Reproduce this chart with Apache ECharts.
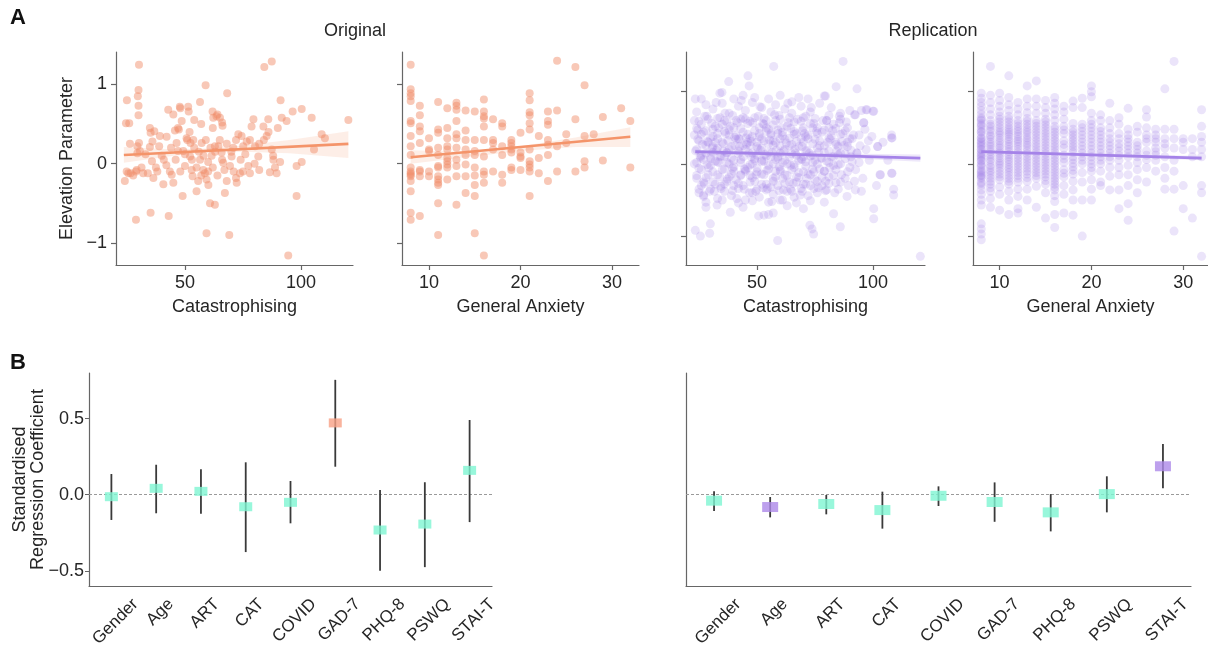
<!DOCTYPE html>
<html><head><meta charset="utf-8">
<script src="https://cdn.jsdelivr.net/npm/echarts@6/dist/echarts.min.js"></script>
<style>html,body{margin:0;padding:0;background:#fff}#c{width:1208px;height:650px}</style>
</head><body><div id="c"></div>
<script>
// ---------- Panel A data ----------
const origCatPoints = [[24.1,-0.22],[24.9,-0.10],[25.6,-0.12],[24.6,0.51],[26.0,0.51],[25.0,0.80],[26.3,0.25],[26.6,-0.12],[27.7,-0.15],[28.9,-0.10],[29.2,-0.08],[29.5,0.13],[29.5,0.22],[30.0,0.93],[29.7,0.85],[30.2,1.25],[30.0,0.73],[30.0,0.61],[30.2,0.26],[30.6,0.16],[31.3,-0.05],[32.0,-0.12],[28.9,-0.71],[34.9,0.45],[35.2,0.39],[34.9,0.21],[35.8,0.03],[36.4,-0.18],[35.2,-0.62],[36.8,0.41],[37.5,-0.05],[38.1,-0.10],[38.9,0.22],[39.2,0.35],[40.7,-0.26],[40.9,0.05],[42.8,0.68],[43.0,-0.66],[42.1,0.34],[43.5,-0.10],[44.3,-0.14],[45.0,-0.24],[45.7,0.42],[46.4,0.26],[47.0,0.16],[47.4,0.43],[47.8,0.72],[48.6,0.54],[49.0,-0.41],[49.3,0.16],[50.0,-0.03],[50.7,0.32],[51.4,0.72],[51.6,0.66],[52.2,0.09],[52.4,0.26],[52.9,-0.08],[53.3,-0.16],[53.6,0.30],[55.0,-0.35],[55.7,-0.22],[56.5,0.78],[56.5,0.05],[57.2,0.26],[57.9,-0.08],[58.6,-0.12],[58.9,0.99],[59.3,-0.88],[59.3,-0.20],[60.1,-0.27],[60.8,-0.50],[62.9,-0.52],[61.5,0.10],[61.9,0.66],[62.2,0.58],[62.9,0.22],[63.6,0.60],[64.4,0.22],[65.1,0.58],[66.2,0.48],[65.8,0.14],[66.5,0.01],[67.2,-0.37],[68.0,-0.22],[68.2,0.89],[69.1,-0.90],[69.4,-0.03],[70.1,0.09],[70.8,0.20],[72.3,-0.24],[73.0,0.37],[73.7,-0.12],[74.4,0.35],[75.1,0.22],[76.6,0.28],[77.3,-0.03],[78.0,-0.12],[78.7,0.47],[79.5,0.56],[80.2,0.22],[81.6,0.09],[83.8,0.47],[84.2,1.22],[87.4,1.29],[85.2,0.35],[85.9,0.56],[86.6,-0.11],[87.4,0.18],[88.1,0.05],[88.8,-0.05],[89.5,-0.12],[91.2,0.80],[91.7,0.58],[93.8,0.54],[96.4,0.66],[98.1,-0.03],[98.1,-0.41],[100.3,0.69],[100.3,0.02],[94.5,-1.16],[104.6,0.58],[105.6,0.18],[108.9,0.37],[110.3,0.32],[120.4,0.55],
[40,0.10],[42,-0.02],[44,0.20],[46,0.05],[48,-0.10],[50,0.12],[51,0.30],[53,0.05],[54,0.20],[55,-0.05],[56,0.15],[57,-0.15],[58,0.10],[59,0.30],[60,0.02],[60,-0.10],[61,0.20],[62,-0.05],[63,0.15],[64,-0.15],[65,0.30],[66,0.05],[67,-0.08],[68,0.25],[70,0.15],[71,-0.10],[72,0.30],[74,0.05],[75,-0.10],[76,0.12],[78,0.30],[80,0.00],[82,0.25],[84,0.30],[86,0.40],[88,0.10],[47,0.45],[52,0.40],[57,0.50],[62,0.45],[33,0.12],[36,0.28],[45,0.62],[48,0.70],[54,0.55],[64,0.62],[66,0.52],[72,-0.18],[82,-0.08],[90,0.45],[91,0.02],[34,-0.12]];

const origAnxLevels = [8,9,10,11,12,13,14,15,16,17,18,19,20,21,22,23,24,25,26,27,28,29,31,32];
const origAnxValues = [
 [1.25,0.94,0.89,0.85,0.79,0.54,0.51,0.35,0.22,0.11,-0.05,-0.10,-0.12,-0.14,-0.16,-0.22,-0.35,-0.62,-0.71],
 [0.73,0.61,0.47,0.41,0.26,-0.08,-0.10,-0.16,-0.66],
 [0.32,0.18,0.16,-0.10,-0.16],
 [0.78,0.43,0.39,0.20,0.11,-0.03,-0.05,-0.16,-0.20,-0.24,-0.27,-0.50,-0.90],
 [0.70,0.45,0.32,0.22,0.18,0.07,0.03,-0.01,-0.05,-0.20],
 [0.77,0.73,0.68,0.54,0.37,0.32,0.20,0.05,-0.03,-0.16,-0.52],
 [0.67,0.42,0.30,0.18,0.11,-0.01,-0.16,-0.37],
 [0.66,0.30,0.16,0.11,-0.05,-0.15,-0.27,-0.41,-0.88],
 [0.81,0.66,0.60,0.57,0.47,0.30,0.09,-0.10,-0.14,-0.24,-1.16],
 [0.56,0.30,0.26,0.18,-0.10],
 [0.51,0.47,0.22,0.11,-0.14,-0.24],
 [0.30,0.26,0.22,0.18,0.14,-0.05,-0.08],
 [0.39,0.14,0.09,0.07,-0.08],
 [0.89,0.80,0.65,0.61,0.51,0.43,0.18,0.03,-0.01,-0.05,-0.10,-0.41],
 [0.35,0.07,-0.12],
 [0.66,0.54,0.49,0.30,0.24,0.11,-0.22],
 [1.30,0.67,0.22,-0.10],
 [0.37,0.26],
 [1.22,0.56,-0.10],
 [0.99,0.35,0.03,-0.05],
 [0.37],
 [0.59,0.04],
 [0.70],
 [0.54,-0.05]
];

const repCatPoints = [[57.2,1.35],[87.1,1.42],[46.1,1.22],[37.8,1.14],[46.6,1.08],[34.9,0.99],[84.1,1.07],[93.1,1.04],[79.5,0.94],[23.4,0.90],
[26,0.90],[34,0.98],[40,0.90],[44,0.95],[49,0.92],[55,0.90],[60,0.95],[68,0.92],[72,0.90],[79,0.94],
[24,0.72],[28,0.82],[31,0.76],[35,0.84],[38,0.70],[42,0.80],[45,0.74],[48,0.85],[52,0.78],[56,0.72],[58,0.82],[62,0.76],[65,0.86],[69,0.80],[73,0.72],[77,0.84],[82,0.78],[86,0.70],[90,0.74],[95,0.74],[97,0.75],[100,0.73],
[23,0.60],[26,0.55],[29,0.62],[32,0.52],[34,0.64],[37,0.58],[40,0.50],[43,0.62],[46,0.56],[49,0.64],[51,0.50],[54,0.60],[57,0.54],[60,0.62],[63,0.52],[66,0.58],[70,0.64],[73,0.56],[76,0.50],[80,0.60],[83,0.55],[86,0.62],[89,0.50],[92,0.68],[96,0.57],
[23,0.40],[25,0.32],[27,0.44],[30,0.36],[33,0.42],[35,0.30],[38,0.40],[41,0.34],[44,0.44],[46,0.30],[48,0.38],[51,0.42],[53,0.32],[56,0.40],[58,0.30],[61,0.44],[64,0.36],[67,0.42],[70,0.30],[72,0.40],[75,0.34],[78,0.44],[81,0.36],[84,0.30],[87,0.42],[90,0.35],[94,0.40],[98,0.32],[102,0.24],[108,0.36],[108,0.40],
[24,0.20],[26,0.12],[28,0.26],[31,0.16],[33,0.22],[36,0.10],[39,0.24],[42,0.14],[45,0.20],[47,0.26],[50,0.12],[52,0.22],[55,0.16],[57,0.26],[59,0.10],[62,0.20],[65,0.14],[68,0.24],[71,0.18],[74,0.12],[76,0.22],[79,0.16],[82,0.10],[85,0.24],[88,0.14],[93,0.15],[97,0.20],
[23,0.00],[25,-0.06],[27,0.06],[30,-0.02],[32,0.04],[35,-0.08],[37,0.02],[40,-0.04],[43,0.06],[45,-0.10],[48,0.00],[50,-0.06],[53,0.04],[55,-0.02],[58,0.06],[60,-0.08],[63,0.00],[66,-0.05],[68,0.05],[71,-0.03],[74,0.02],[77,-0.07],[80,0.04],[83,-0.02],[86,0.00],[90,-0.05],[94,0.02],[103,-0.15],[108,-0.13],
[24,-0.20],[26,-0.30],[29,-0.15],[31,-0.25],[34,-0.18],[36,-0.28],[39,-0.14],[41,-0.22],[44,-0.30],[47,-0.16],[49,-0.24],[52,-0.14],[54,-0.28],[57,-0.20],[59,-0.30],[62,-0.15],[64,-0.25],[67,-0.18],[70,-0.28],[72,-0.14],[75,-0.22],[78,-0.30],[81,-0.18],[84,-0.26],[88,-0.20],[92,-0.24],
[25,-0.40],[27,-0.45],[30,-0.35],[33,-0.48],[36,-0.38],[39,-0.44],[42,-0.34],[45,-0.50],[48,-0.40],[51,-0.46],[54,-0.36],[57,-0.42],[60,-0.50],[63,-0.38],[66,-0.46],[69,-0.34],[72,-0.44],[76,-0.40],[80,-0.36],[88.8,-0.45],[92.4,-0.36],[95,-0.38],[108.9,-0.43],[108.9,-0.35],
[28,-0.60],[32.8,-0.57],[38.5,-0.67],[44,-0.60],[50.7,-0.72],[53,-0.71],[55,-0.70],[57,-0.68],[63,-0.58],[70,-0.62],[83,-0.69],[100.3,-0.62],[100.3,-0.76],
[23.4,-0.92],[25.6,-1.00],[29.6,-0.96],[29.9,-0.83],[58.9,-1.06],[74.4,-0.97],[73.7,-0.90],[72.8,-0.85],[85.9,-0.87],[120.4,-1.28],[108.2,-0.13],[108.2,0.36],[103.2,-0.15],[102,0.24],[100.3,0.73],[97.4,0.75],[96,0.57],[92.4,0.68],[93.1,0.15],[27,-0.43],
[32,0.30],[34,0.10],[36,0.45],[38,0.20],[40,0.05],[42,0.35],[44,0.25],[46,-0.05],[48,0.15],[50,0.30],[52,0.05],[54,0.45],[56,0.10],[58,-0.10],[60,0.35],[62,0.05],[64,0.25],[66,0.45],[68,-0.12],[70,0.10],[35,0.55],[45,0.62],[55,0.48],[65,0.70],[30,0.10],[40,-0.30],[50,-0.35],[60,0.15],[70,0.50],[75,0.05],
[29,0.30],[31,0.48],[37,0.15],[41,0.60],[43,-0.15],[47,0.35],[49,0.05],[53,0.55],[56,-0.32],[59,0.42],[61,-0.20],[65,-0.38],[67,0.12],[69,0.35],[73,-0.30],[77,0.25],[79,-0.10],[81,0.50],[85,0.12],[89,0.30],
[24.5,0.47],[25.8,0.08],[27.3,-0.27],[28.4,0.66],[29.1,-0.05],[30.7,0.22],[31.6,-0.38],[32.4,0.85],[33.5,0.02],[34.4,-0.31],[35.6,0.18],[36.2,0.70],[37.3,-0.21],[38.4,0.52],[39.5,-0.06],[40.4,0.37],[41.3,-0.48],[42.5,0.24],[43.2,0.88],[44.6,-0.07],[45.3,0.36],[46.7,-0.40],[47.5,0.10],[48.2,0.57],[49.6,-0.15],[50.4,0.21],[51.3,0.79],[52.6,-0.33],[53.4,0.13],[54.3,-0.09],[55.5,0.33],[56.4,-0.52],[57.6,0.68],[58.3,0.19],[59.6,-0.04],[60.5,0.50],[61.4,-0.36],[62.6,0.29],[63.3,0.84],[64.5,-0.02],[65.6,-0.27],[66.4,0.20],[67.5,0.62],[68.6,-0.43],[69.3,0.06],[70.5,0.42],[71.4,-0.20],[72.6,0.15],[73.4,0.78],[74.5,-0.11],[75.6,0.45],[76.4,-0.33],[77.5,0.08],[78.4,0.60],[79.6,-0.24],[80.5,0.30],[81.4,-0.05],[82.6,0.46],[83.5,-0.40],[84.4,0.18],[85.5,0.66],[86.4,-0.15],[87.6,0.26],[88.5,0.58],[89.4,-0.30],[90.5,0.10],[91.6,0.40],[92.5,-0.08],[94.4,0.25],[95.6,-0.20],[96.5,0.48],[98.4,0.05],[99.5,0.38],[101.5,-0.30],[104.3,0.30],[106.4,0.05],
[27.5,0.66],[33,0.63],[39.5,0.67],[44,0.64],[50.5,0.66],[53,0.63],[59.5,0.67],[64,0.64],[71,0.66],[75,0.63],[81,0.67],
[25,0.59],[30.5,0.56],[36,0.60],[41.5,0.57],[47,0.59],[52.5,0.56],[58,0.60],[63.5,0.57],[69,0.59],[74.5,0.56],[80,0.60],[85.5,0.57],
[24,0.49],[28,0.46],[33.5,0.50],[38,0.47],[43,0.49],[49,0.46],[54,0.50],[59,0.47],[64.5,0.49],[69.5,0.46],[74,0.50],[79,0.47],[84,0.49],[88,0.46],
[26,0.41],[31,0.38],[36.5,0.42],[41,0.39],[46,0.41],[51,0.38],[56,0.42],[61,0.39],[66,0.41],[71,0.38],[76,0.42],[82,0.39],[86,0.41],
[24.5,0.34],[28.5,0.31],[33,0.35],[37.5,0.32],[42.5,0.34],[47.5,0.31],[52,0.35],[57,0.32],[62,0.34],[67,0.31],[72,0.35],[77,0.32],[81.5,0.34],[86.5,0.31],[91,0.35],
[26.5,0.27],[31,0.24],[35.5,0.28],[40.5,0.25],[45.5,0.27],[50,0.24],[55,0.28],[60,0.25],[65,0.27],[69.5,0.24],[74,0.28],[79,0.25],[84,0.27],[89,0.24],
[23.5,0.18],[28,0.15],[32.5,0.19],[37,0.16],[42,0.18],[46.5,0.15],[51.5,0.19],[56.5,0.16],[61.5,0.18],[66.5,0.15],[71.5,0.19],[76.5,0.16],[81,0.18],[86,0.15],[90.5,0.19],
[25.5,0.10],[30,0.07],[34.5,0.11],[39,0.08],[44,0.10],[49,0.07],[54,0.11],[59,0.08],[64,0.10],[69,0.07],[73,0.11],[78,0.08],[83,0.10],[88,0.07],
[24,0.02],[28.5,-0.01],[33,0.03],[38,0.00],[43,0.02],[47,-0.01],[52,0.03],[57,0.00],[61,0.02],[66,-0.01],[71,0.03],[76,0.00],[81,0.02],[85,-0.01],[91,0.03],
[26,-0.08],[31,-0.11],[36,-0.07],[40,-0.10],[45,-0.08],[50,-0.11],[55,-0.07],[60,-0.10],[65,-0.08],[70,-0.11],[74,-0.07],[79,-0.10],[84,-0.08],[89,-0.11],
[24,-0.16],[28,-0.19],[33,-0.15],[38,-0.18],[43,-0.16],[48,-0.19],[53,-0.15],[58,-0.18],[63,-0.16],[68,-0.19],[73,-0.15],[78,-0.18],[83,-0.16],
[27,-0.25],[32,-0.28],[37,-0.24],[42,-0.27],[47,-0.25],[52,-0.28],[57,-0.24],[62,-0.27],[67,-0.25],[71,-0.28],[76,-0.24],[81,-0.27],[86,-0.25],
[25,-0.35],[29.5,-0.38],[34.5,-0.34],[39.5,-0.37],[44.5,-0.35],[49.5,-0.38],[54.5,-0.34],[59.5,-0.37],[64.5,-0.35],[69.5,-0.38],[74.5,-0.34],[79.5,-0.37],[85,-0.35],
[28,-0.53],[35,-0.50],[42,-0.54],[48,-0.51],[55,-0.53],[61,-0.50],[67,-0.54],[73,-0.51],[79,-0.53]];

const repAnxLevels = [8,9,10,11,12,13,14,15,16,17,18,19,20,21,22,23,24,25,26,27,28,29,30,31,32];
const repAnxValues = [
 [0.98,0.91,0.85,0.80,0.74,0.69,0.64,0.60,0.56,0.52,0.48,0.44,0.40,0.36,0.32,0.28,0.24,0.20,0.16,0.12,0.08,0.04,0.00,-0.04,-0.08,-0.12,-0.16,-0.20,-0.25,-0.30,-0.36,-0.42,-0.50,-0.57,-0.83,-0.90,-0.97,-1.05,0.30,0.10,-0.10,0.45,0.20,0.35,0.05,-0.15,0.62,0.54,0.26,0.14,-0.02,-0.18,-0.27],
 [1.35,0.95,0.85,0.76,0.68,0.60,0.52,0.45,0.38,0.30,0.24,0.17,0.10,0.03,-0.05,-0.12,-0.20,-0.28,-0.38,-0.48,-0.60,0.40,0.20,-0.02,0.55,0.48,0.34,0.27,0.13,0.06,-0.09,-0.16,-0.24,-0.33],
 [0.98,0.88,0.80,0.72,0.66,0.58,0.50,0.43,0.36,0.29,0.22,0.15,0.08,0.01,-0.06,-0.14,-0.22,-0.32,-0.42,-0.64,0.32,0.12,0.62,0.54,0.46,0.40,0.25,0.18,0.04,-0.02,-0.10,-0.18],
 [1.22,0.92,0.82,0.74,0.66,0.58,0.50,0.44,0.38,0.31,0.24,0.17,0.10,0.03,-0.05,-0.12,-0.20,-0.28,-0.38,-0.50,-0.70,0.27,0.06,0.62,0.54,0.47,0.41,0.34,0.20,0.13,-0.01,-0.08,-0.16,-0.24],
 [0.85,0.76,0.68,0.60,0.52,0.45,0.38,0.31,0.24,0.16,0.08,0.00,-0.08,-0.16,-0.25,-0.35,-0.45,-0.62,-0.68,0.20,0.56,0.48,0.41,0.34,0.28,0.12,0.04,-0.04,-0.12,-0.20],
 [1.08,0.90,0.80,0.71,0.63,0.55,0.47,0.40,0.33,0.26,0.18,0.10,0.02,-0.06,-0.14,-0.24,-0.35,-0.50,0.59,0.51,0.44,0.36,0.29,0.22,0.14,0.06,-0.02,-0.10,-0.19],
 [1.15,0.90,0.80,0.70,0.60,0.52,0.44,0.36,0.28,0.20,0.12,0.04,-0.04,-0.12,-0.20,-0.31,-0.60,0.56,0.48,0.40,0.32,0.24,0.16,0.08,0.00,-0.08,-0.16],
 [0.88,0.78,0.70,0.62,0.54,0.46,0.38,0.30,0.22,0.14,0.06,-0.02,-0.10,-0.18,-0.28,-0.40,-0.75,0.58,0.50,0.42,0.34,0.26,0.18,0.10,0.02,-0.06,-0.14,-0.23],
 [0.92,0.84,0.76,0.68,0.60,0.52,0.44,0.36,0.28,0.20,0.12,0.04,-0.04,-0.12,-0.20,-0.28,-0.36,-0.44,-0.52,-0.70,-0.88,0.48,0.40,0.32,0.24,0.16,0.08,0.00,-0.08,-0.16,-0.24,-0.32],
 [0.80,0.72,0.62,0.52,0.42,0.32,0.22,0.12,0.02,-0.08,-0.18,-0.30,-0.42,-0.68,0.47,0.27,0.07,-0.13],
 [0.87,0.78,0.56,0.48,0.40,0.32,0.24,0.16,0.06,-0.04,-0.14,-0.24,-0.36,-0.50,-0.71,0.44,0.36,0.28,0.20,0.10,0.01,-0.09],
 [0.91,0.78,0.55,0.50,0.40,0.30,0.20,0.10,0.00,-0.12,-0.25,-0.50,-1.00,0.45,0.35,0.25,0.15,0.05],
 [1.08,1.00,0.93,0.70,0.60,0.50,0.40,0.30,0.20,0.10,0.00,-0.10,-0.22,-0.35,-0.50,0.55,0.45,0.35,0.25,0.15,0.05,-0.05],
 [0.68,0.60,0.50,0.40,0.30,0.20,0.10,0.00,-0.10,-0.25,-0.30,0.45,0.35,0.25,0.15,0.05],
 [0.84,0.60,0.50,0.35,0.25,0.15,0.05,-0.05,-0.17,-0.36,0.42,0.30,0.20,0.10],
 [0.64,0.55,0.42,0.28,0.18,0.05,-0.05,-0.15,-0.36,-0.62,0.35,0.23,0.12],
 [0.77,0.48,0.40,0.30,0.20,0.10,-0.02,-0.15,-0.30,-0.55,-0.78,0.35,0.25,0.15],
 [0.52,0.44,0.30,0.20,0.10,0.02,-0.08,-0.22,-0.40,0.25,0.15],
 [0.75,0.65,0.50,0.40,0.30,0.18,0.06,-0.05,-0.25,0.35,0.12],
 [0.48,0.40,0.30,0.22,0.12,0.05,-0.10,0.35,0.17],
 [1.04,0.48,0.35,0.22,0.10,-0.05,-0.20,-0.35,0.28],
 [1.42,0.48,0.35,0.22,0.05,-0.10,-0.35,-0.93],
 [0.35,0.30,0.20,-0.30,-0.62],
 [0.35,0.20,0.10,-0.75],
 [0.75,0.52,0.38,0.30,0.20,0.10,-0.30,-0.40,-1.28]
];

// regression fits and confidence bands
const origCatFit = [[23.7,0.11],[120.4,0.25]];
const origCatBandUpper = [[23.7,0.21],[45,0.18],[60,0.19],[75,0.23],[95,0.30],[120.4,0.41]];
const origCatBandLower = [[23.7,0.01],[45,0.10],[60,0.14],[75,0.15],[95,0.13],[120.4,0.07]];
const origAnxFit = [[8,0.08],[32,0.34]];
const origAnxBandUpper = [[8,0.17],[14,0.15],[20,0.22],[26,0.33],[32,0.46]];
const origAnxBandLower = [[8,0.00],[14,0.08],[20,0.16],[26,0.21],[32,0.21]];
const repCatFit = [[23.4,0.17],[120.4,0.08]];
const repCatBandUpper = [[23.4,0.20],[70,0.15],[120.4,0.13]];
const repCatBandLower = [[23.4,0.13],[70,0.11],[120.4,0.03]];
const repAnxFit = [[8,0.17],[32,0.08]];
const repAnxBandUpper = [[8,0.19],[20,0.14],[32,0.11]];
const repAnxBandLower = [[8,0.15],[20,0.11],[32,0.05]];

const elevTicks = [-1,0,1];
const catTicks = [50,100];
const anxTicks = [10,20,30];

// ---------- Panel B data ----------
const predictors = ['Gender','Age','ART','CAT','COVID','GAD-7','PHQ-8','PSWQ','STAI-T'];
const origCoef = [-0.013,0.042,0.022,-0.079,-0.050,0.472,-0.232,-0.193,0.160];
const origLow  = [-0.166,-0.122,-0.125,-0.377,-0.188,0.184,-0.500,-0.476,-0.180];
const origHigh = [0.136,0.197,0.167,0.213,0.090,0.755,0.031,0.082,0.491];
const origSignificant = [false,false,false,false,false,true,false,false,false];
const repCoef = [-0.039,-0.081,-0.061,-0.101,-0.007,-0.048,-0.116,0.004,0.187];
const repLow  = [-0.107,-0.149,-0.129,-0.223,-0.074,-0.178,-0.241,-0.116,0.042];
const repHigh = [0.022,-0.015,-0.002,0.020,0.055,0.081,0.004,0.121,0.333];
const repSignificant = [false,true,false,false,false,false,false,false,true];
const coefTicks = [-0.5,0,0.5];

// ---------- styling ----------
const F = '"Liberation Sans", Arial, sans-serif';
const AX = '#666';
const TXT = '#262626';
const ORANGE = '#f4946a';
const PURPLE = '#a583e8';
const TEAL = '#7ef5d2';
const SIG_ORANGE = '#f7a085';
const SIG_PURPLE = '#ad88e8';
const CAT_FONT = '17px ' + F;

function minus(s){ return String(s).replace('-', '\u2212'); }

const measureCtx = document.createElement('canvas').getContext('2d');
function textWidth(t, font){ measureCtx.font = font; return measureCtx.measureText(t).width; }

function xValAxis(gi, min, max, ticks, name){
  return {type:'value', gridIndex:gi, min:min, max:max, name:name, nameLocation:'middle', nameGap:33,
    nameTextStyle:{fontSize:18,color:TXT,fontFamily:F},
    axisLine:{show:true,onZero:false,lineStyle:{color:AX,width:1.2}},
    axisTick:{show:true,length:5,customValues:ticks,lineStyle:{color:AX,width:1.2}},
    axisLabel:{customValues:ticks,fontSize:18,color:TXT,margin:9,fontFamily:F,formatter:minus},
    splitLine:{show:false}};
}
function yValAxis(gi, min, max, ticks, showLabels, name){
  return {type:'value', gridIndex:gi, min:min, max:max, name:name||'', nameLocation:'middle', nameGap:40, nameRotate:90,
    nameTextStyle:{fontSize:18,color:TXT,fontFamily:F},
    axisLine:{show:true,onZero:false,lineStyle:{color:AX,width:1.2}},
    axisTick:{show:true,length:5,customValues:ticks,lineStyle:{color:AX,width:1.2}},
    axisLabel:{show:showLabels,customValues:ticks,fontSize:18,color:TXT,margin:9,fontFamily:F,formatter:minus},
    splitLine:{show:false}};
}

function pairsFromColumns(levels, values){
  const out=[]; levels.forEach((lv,i)=>values[i].forEach(v=>out.push([lv,v]))); return out;
}

function bandSeries(idx, upper, lower, color){
  return {type:'custom', xAxisIndex:idx, yAxisIndex:idx, silent:true, z:1,
    data:[upper[0]],
    renderItem:function(params, api){
      const pts = upper.map(p=>api.coord(p)).concat(lower.slice().reverse().map(p=>api.coord(p)));
      return {type:'polygon', shape:{points:pts}, style:{fill:color}};
    }};
}
function scatterSeries(idx, data, color, size){
  return {type:'scatter', xAxisIndex:idx, yAxisIndex:idx, data:data, symbolSize:size, silent:true, z:2,
    large:false, itemStyle:{color:color, borderWidth:0}};
}
function fitSeries(idx, data, color){
  return {type:'line', xAxisIndex:idx, yAxisIndex:idx, data:data, symbol:'none', silent:true, z:3,
    lineStyle:{color:color,width:2.6}};
}
function errSeries(idx, low, high){
  return {type:'custom', xAxisIndex:idx, yAxisIndex:idx, silent:true, z:3,
    data: low.map((l,i)=>[i,l,high[i]]),
    encode:{x:0,y:[1,2]},
    renderItem:function(params, api){
      const a = api.coord([api.value(0), api.value(1)]);
      const b = api.coord([api.value(0), api.value(2)]);
      return {type:'line', shape:{x1:a[0],y1:a[1],x2:b[0],y2:b[1]}, style:{stroke:'#3a3a3a',lineWidth:1.8}};
    }};
}
function markerSeries(idx, coef, sig, sigColor, size){
  return {type:'scatter', xAxisIndex:idx, yAxisIndex:idx, silent:true, z:4, symbol:'rect', symbolSize:size,
    data: coef.map((v,i)=>({value:[i,v], itemStyle:{color: sig[i]?sigColor:TEAL}})),
    markLine:{silent:true, symbol:['none','none'], label:{show:false}, z:1,
      lineStyle:{color:'#9a9a9a',type:[3,2],width:1}, data:[{yAxis:0}]}};
}
// rotated category labels, centred on their tick and top-aligned under the axis
function catLabelSeries(idx, yMin, dx){
  return {type:'custom', xAxisIndex:idx, yAxisIndex:idx, silent:true, clip:false, z:5,
    data: predictors.map((p,i)=>[i, yMin]),
    renderItem:function(params, api){
      const i = api.value(0);
      const pt = api.coord([i, yMin]);
      const t = predictors[i];
      const w = textWidth(t, CAT_FONT);
      const h = 13;
      const s = Math.SQRT1_2;
      const bh = (w + h) * s;
      return {type:'text', x: pt[0] + dx, y: pt[1] + 11 + bh/2, rotation: Math.PI/4,
        style:{text:t, font:CAT_FONT, fill:TXT, align:'center', verticalAlign:'middle'}};
    }};
}
function catAxis(gi){
  return {type:'category', gridIndex:gi, data:predictors, boundaryGap:true,
    axisLine:{show:true,onZero:false,lineStyle:{color:AX,width:1.2}}, axisTick:{show:false},
    axisLabel:{show:false},
    splitLine:{show:false}};
}

const origDotColor = 'rgba(240,140,105,0.6)';
const repDotColor = 'rgba(150,112,228,0.24)';

const option = {
  animation:false,
  backgroundColor:'#fff',
  textStyle:{fontFamily:F},
  grid:[
    {left:116, top:52, width:237, height:213},
    {left:402, top:52, width:237, height:213},
    {left:686, top:52, width:239, height:213},
    {left:973, top:52, width:235, height:213},
    {left:89, top:373, width:403, height:213},
    {left:686, top:373, width:505, height:213}
  ],
  xAxis:[
    xValAxis(0, 20.3, 122.4, catTicks, 'Catastrophising'),
    xValAxis(1, 7.05, 32.95, anxTicks, 'General Anxiety'),
    xValAxis(2, 19.4, 122.4, catTicks, 'Catastrophising'),
    xValAxis(3, 7.1, 32.7, anxTicks, 'General Anxiety'),
    catAxis(4), catAxis(5)
  ],
  yAxis:[
    yValAxis(0, -1.28, 1.41, elevTicks, true, 'Elevation Parameter'),
    yValAxis(1, -1.28, 1.41, elevTicks, false),
    yValAxis(2, -1.40, 1.55, elevTicks, false),
    yValAxis(3, -1.40, 1.55, elevTicks, false),
    Object.assign(yValAxis(4, -0.6, 0.8, coefTicks, true, 'Standardised\nRegression Coefficient'),
      {nameGap:42, nameMoveOverlap:false, nameTextStyle:{fontSize:18,color:TXT,fontFamily:F,lineHeight:18},
       axisLabel:{customValues:coefTicks,fontSize:18,color:TXT,margin:5,fontFamily:F,
         formatter:v=>minus(Number(v).toFixed(1))}, axisTick:{show:true,length:4,customValues:coefTicks,lineStyle:{color:AX}}}),
    Object.assign(yValAxis(5, -0.6, 0.8, coefTicks, false), {axisTick:{show:false}})
  ],
  graphic:[
    {type:'text', left:10, top:7, style:{text:'A', font:'bold 22px '+F, fill:'#111'}},
    {type:'text', left:10, top:352, style:{text:'B', font:'bold 22px '+F, fill:'#111'}},
    {type:'text', x:355, y:31, style:{text:'Original', font:'18px '+F, fill:TXT, align:'center', verticalAlign:'middle'}},
    {type:'text', x:933, y:31, style:{text:'Replication', font:'18px '+F, fill:TXT, align:'center', verticalAlign:'middle'}}
  ],
  series:[
    bandSeries(0, origCatBandUpper, origCatBandLower, 'rgba(244,160,120,0.18)'),
    scatterSeries(0, origCatPoints, origDotColor, 8),
    fitSeries(0, origCatFit, ORANGE),
    bandSeries(1, origAnxBandUpper, origAnxBandLower, 'rgba(244,160,120,0.18)'),
    scatterSeries(1, pairsFromColumns(origAnxLevels, origAnxValues), origDotColor, 8),
    fitSeries(1, origAnxFit, ORANGE),
    bandSeries(2, repCatBandUpper, repCatBandLower, 'rgba(160,130,230,0.18)'),
    scatterSeries(2, repCatPoints, repDotColor, 9),
    fitSeries(2, repCatFit, PURPLE),
    bandSeries(3, repAnxBandUpper, repAnxBandLower, 'rgba(160,130,230,0.18)'),
    scatterSeries(3, pairsFromColumns(repAnxLevels, repAnxValues), repDotColor, 9),
    fitSeries(3, repAnxFit, PURPLE),
    errSeries(4, origLow, origHigh),
    markerSeries(4, origCoef, origSignificant, SIG_ORANGE, [13,9]),
    catLabelSeries(4, -0.6, 4),
    errSeries(5, repLow, repHigh),
    markerSeries(5, repCoef, repSignificant, SIG_PURPLE, [16,10]),
    catLabelSeries(5, -0.6, 4)
  ]
};
const chart = echarts.init(document.getElementById('c'));
chart.setOption(option);
</script></body></html>
